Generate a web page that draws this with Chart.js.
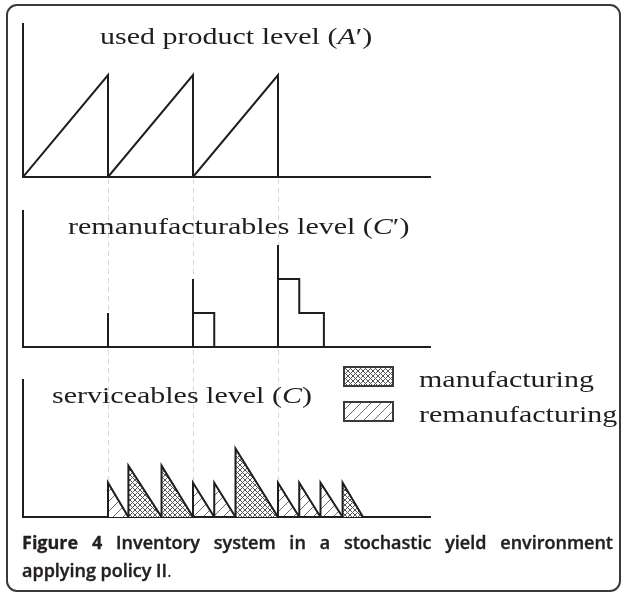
<!DOCTYPE html>
<html>
<head>
<meta charset="utf-8">
<script src="https://cdn.jsdelivr.net/npm/chart.js@4.4.1/dist/chart.umd.min.js"></script>
<style>
  html, body { margin: 0; padding: 0; background: #fff; }
  #fig { position: relative; width: 625px; height: 594px; overflow: hidden; }
  #frame { position: absolute; left: 6px; top: 4px; width: 615px; height: 588px; box-sizing: border-box;
           border: 2px solid #3a3a3a; border-radius: 11px; }
  #plot { position: absolute; left: 0; top: 0; }
  .ttl { position: absolute; font-family: "Liberation Serif", "Times New Roman", serif; font-size: 24px;
         line-height: 24px; color: #1e1e1e; white-space: nowrap; transform: scaleX(1.25); transform-origin: 0 0; }
  .key { position: absolute; left: 343px; }
  .cap { position: absolute; left: 22px; top: 528px; width: 591px; font-family: "Open Sans", sans-serif;
         font-size: 18px; line-height: 28px; font-weight: 600; text-align: justify; color: #231f20;
         -webkit-text-stroke: 0.4px #231f20; }
  .cap b { font-weight: 700; -webkit-text-stroke: 0.3px #231f20; }
  .cap .dot { font-weight: 400; -webkit-text-stroke: 0; }
</style>
</head>
<body>
<div id="fig">
  <div id="frame"></div>
  <canvas id="plot" width="625" height="530"></canvas>
  <span class="ttl" style="left:100px;top:24px">used product level (<i>A</i>′)</span>
  <span class="ttl" style="left:68px;top:214px">remanufacturables level (<i>C</i>′)</span>
  <span class="ttl" style="left:52px;top:383px">serviceables level (<i>C</i>)</span>
  <canvas class="key" id="keyManuf" width="51" height="21" style="top:366px"></canvas>
  <canvas class="key" id="keyReman" width="51" height="21" style="top:401px"></canvas>
  <span class="ttl" style="left:419px;top:367px">manufacturing</span>
  <span class="ttl" style="left:419px;top:402px">remanufacturing</span>
  <div class="cap"><b>Figure 4</b> Inventory system in a stochastic yield environment applying policy II<span class="dot">.</span></div>
</div>

<script>
/* ── 데이터 (x: 시간, 한 칸 = 회수 주기 1회) ── */
var guideX = [1, 2, 3];

// used product level (A')
var usedX = [0, 1, 1, 2, 2, 3, 3];
var usedY = [0, 1, 0, 1, 0, 1, 0];

// remanufacturables level (C')
var remX = [1, 1, 1, 2, 2, 2, 2.25, 2.25, 3, 3, 3, 3.25, 3.25, 3.54, 3.54];
var remY = [0, 1, 0, 0, 2, 1, 1, 0, 0, 3, 2, 2, 1, 1, 0];

// serviceables level (C): 삼각형 하나 = 생산 1회
var triStart = [1.00, 1.24, 1.63, 2.00, 2.25, 2.50, 3.00, 3.25, 3.50, 3.76];
var triEnd   = [1.24, 1.63, 2.00, 2.25, 2.50, 3.00, 3.25, 3.50, 3.76, 4.00];
var triPeak  = [1, 1.5, 1.5, 1, 1, 2, 1, 1, 1, 1];
var triKind  = ['reman', 'manuf', 'manuf', 'reman', 'reman', 'manuf', 'reman', 'reman', 'reman', 'manuf'];

var INK = '#1e1e1e';

/* ── 해칭 패턴 ── */
function makeHatch(kind) {
  var s = kind === 'manuf' ? 5 : 10;
  var c = document.createElement('canvas');
  c.width = s; c.height = s;
  var g = c.getContext('2d');
  g.fillStyle = '#fff';
  g.fillRect(0, 0, s, s);
  g.strokeStyle = kind === 'manuf' ? '#555' : '#6a6a6a';
  g.lineWidth = 1;
  g.beginPath();
  g.moveTo(-2, s + 2); g.lineTo(s + 2, -2);
  g.moveTo(-2, 2); g.lineTo(2, -2);
  g.moveTo(s - 2, s + 2); g.lineTo(s + 2, s - 2);
  if (kind === 'manuf') {
    g.moveTo(-2, -2); g.lineTo(s + 2, s + 2);
    g.moveTo(s - 2, -2); g.lineTo(s + 2, 2);
    g.moveTo(-2, s - 2); g.lineTo(2, s + 2);
  }
  g.stroke();
  return g.createPattern(c, 'repeat');
}
var hatch = { manuf: makeHatch('manuf'), reman: makeHatch('reman') };

function toPoints(xs, ys) {
  return xs.map(function(x, i) { return { x: x, y: ys[i] }; });
}
function triPoints(kind) {
  var pts = [];
  triStart.forEach(function(s, i) {
    if (triKind[i] !== kind) return;
    pts.push({ x: s, y: 0 }, { x: s, y: triPeak[i] }, { x: triEnd[i], y: 0 });
  });
  return pts;
}

/* ── 점선 가이드 (위 패널 기준선 ~ 아래 패널 기준선) ── */
var guidePlugin = {
  id: 'guides',
  beforeDatasetsDraw: function(chart) {
    var sx = chart.scales.x, top = chart.scales.yTop, bot = chart.scales.yBot;
    var ctx = chart.ctx;
    ctx.save();
    ctx.strokeStyle = '#d6d6d6';
    ctx.lineWidth = 1;
    ctx.setLineDash([5, 4]);
    guideX.forEach(function(v) {
      var px = Math.round(sx.getPixelForValue(v)) + 0.5;
      ctx.beginPath();
      ctx.moveTo(px, top.getPixelForValue(0) + 2);
      ctx.lineTo(px, bot.getPixelForValue(0));
      ctx.stroke();
    });
    ctx.restore();
  }
};

function panelAxis(weight, max) {
  return {
    type: 'linear', position: 'left', stack: 'panels', stackWeight: weight,
    min: 0, max: max,
    afterBuildTicks: function(s) { s.ticks = [{ value: 0 }]; },
    ticks: { display: false },
    grid: { display: true, drawTicks: false, color: INK, lineWidth: 2 },
    border: { display: true, color: INK, width: 2 }
  };
}
function gapAxis(weight) {
  return {
    type: 'linear', position: 'left', stack: 'panels', stackWeight: weight,
    min: 0, max: 1,
    ticks: { display: false },
    grid: { display: false, drawTicks: false },
    border: { display: false }
  };
}

function lineSet(data, axis, extra) {
  var ds = {
    data: data, yAxisID: axis,
    borderColor: INK, borderWidth: 2, borderJoinStyle: 'miter',
    pointRadius: 0, tension: 0, fill: false
  };
  for (var k in extra) ds[k] = extra[k];
  return ds;
}

new Chart(document.getElementById('plot').getContext('2d'), {
  type: 'line',
  data: {
    datasets: [
      lineSet(toPoints(usedX, usedY), 'yTop'),
      lineSet(toPoints(remX, remY), 'yMid'),
      lineSet(triPoints('manuf'), 'yBot', { fill: 'origin', backgroundColor: hatch.manuf }),
      lineSet(triPoints('reman'), 'yBot', { fill: 'origin', backgroundColor: hatch.reman })
    ]
  },
  options: {
    responsive: false,
    animation: false,
    layout: { padding: { left: 23, right: 194, top: 24, bottom: 13 } },
    plugins: { legend: { display: false }, tooltip: { enabled: false } },
    scales: {
      x: { type: 'linear', min: 0, max: 4.8, display: false },
      yBot: panelAxis(137, 4),
      gapB: gapAxis(33),
      yMid: panelAxis(136, 4),
      gapA: gapAxis(34),
      yTop: panelAxis(153, 1.5)
    }
  },
  plugins: [guidePlugin]
});

/* ── 범례 견본 ── */
['manuf', 'reman'].forEach(function(kind) {
  var el = document.getElementById(kind === 'manuf' ? 'keyManuf' : 'keyReman');
  var g = el.getContext('2d');
  g.fillStyle = hatch[kind];
  g.fillRect(0, 0, el.width, el.height);
  g.strokeStyle = '#3a3a3a';
  g.lineWidth = 2;
  g.strokeRect(1, 1, el.width - 2, el.height - 2);
});
</script>
</body>
</html>
